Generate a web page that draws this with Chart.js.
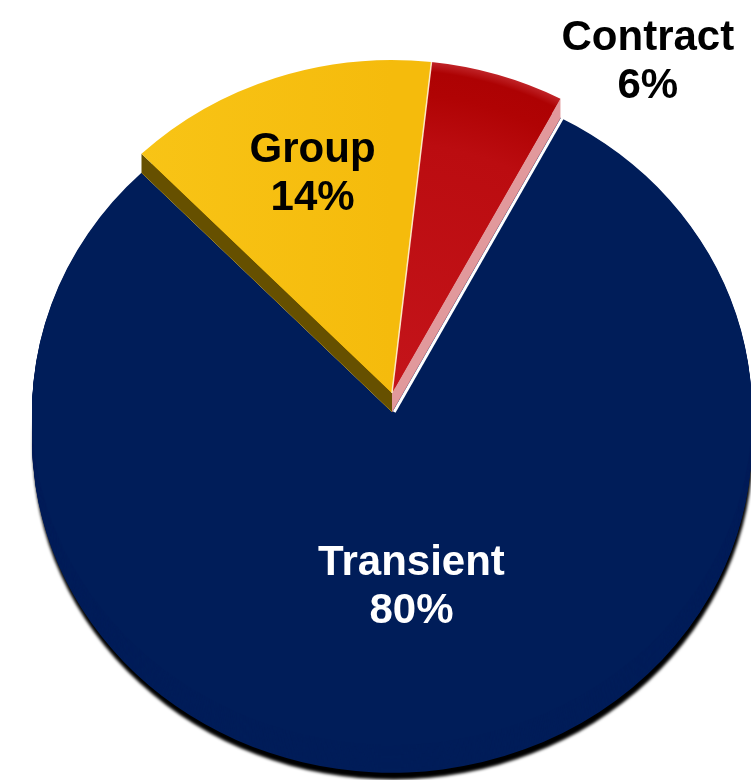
<!DOCTYPE html>
<html>
<head>
<meta charset="utf-8">
<script src="https://cdn.jsdelivr.net/npm/chart.js@4.4.1/dist/chart.umd.min.js"></script>
<style>
html, body { margin: 0; padding: 0; background: #fff; overflow: hidden; }
#wrap { position: relative; width: 751px; height: 780px; overflow: hidden; }
#mixChart { position: absolute; left: 0; top: 0; }
</style>
</head>
<body>
<div id="wrap"><canvas id="mixChart" width="780" height="780"></canvas></div>
<script>
// ===== Data =====
const segments = ["Transient", "Group", "Contract"];
const shares = [80, 14, 6];
const sliceColors = ["#001D59", "#F6BD0F", "#B80C10"];
const sideColors = [null, "#665000", "#E1999C"];
const raised = [false, true, true];
const labelColors = ["#ffffff", "#000000", "#000000"];
// where each label sits: fraction of radius, turn (deg) from slice middle
const labelPlace = [
    { r: 0.564, turn: 2.6 },
    { r: 0.714, turn: 0.9 },
    { r: 1.239, turn: 17.9 }
];

// ===== 3D look =====
const TILT = 0.925;   // vertical squash of the pie
const LIFT = 19;      // how far the small slices stand up (px)
const WALL = 28;      // thickness of the big slice (px)

function edgeBand(ctx, el, angle, lift, color) {
    const x1 = el.x + Math.cos(angle) * el.outerRadius;
    const y1 = el.y + Math.sin(angle) * el.outerRadius;
    ctx.beginPath();
    ctx.moveTo(el.x, el.y - lift);
    ctx.lineTo(x1, y1 - lift);
    ctx.lineTo(x1, y1);
    ctx.lineTo(el.x, el.y);
    ctx.closePath();
    ctx.fillStyle = color;
    ctx.fill();
}

const pie3d = {
    id: "pie3d",
    beforeDatasetsDraw(chart) {
        const ctx = chart.ctx;
        const c = chart.getDatasetMeta(0).data[0];
        const wall = WALL / TILT;
        ctx.save();
        ctx.translate(0, c.y);
        ctx.scale(1, TILT);
        ctx.translate(0, -c.y);

        // shadow under the big slice
        ctx.save();
        ctx.filter = "blur(1.5px)";
        ctx.fillStyle = "#000000";
        const sy = c.y + wall + 7;
        ctx.beginPath();
        ctx.moveTo(c.x + 1, sy);
        ctx.arc(c.x + 1, sy, c.outerRadius, c.startAngle, c.endAngle);
        ctx.closePath();
        ctx.fill();
        ctx.restore();

        // wall of the big slice
        for (let i = Math.round(wall); i > 0; i--) {
            ctx.save();
            ctx.translate(0, i);
            c.draw(ctx);
            ctx.restore();
        }
    },
    afterDatasetsDraw(chart) {
        const ctx = chart.ctx;
        const arcs = chart.getDatasetMeta(0).data;
        const g = arcs[1], k = arcs[2];
        const lift = LIFT / TILT;

        // white gap between the Contract side and the big slice
        ctx.beginPath();
        ctx.moveTo(k.x + 2.2, k.y);
        ctx.lineTo(k.x + 2.2 + Math.cos(k.endAngle) * k.outerRadius, k.y + Math.sin(k.endAngle) * k.outerRadius);
        ctx.strokeStyle = "#ffffff";
        ctx.lineWidth = 3;
        ctx.stroke();

        // side faces seen from the front
        edgeBand(ctx, g, g.startAngle, lift, sideColors[1]);
        edgeBand(ctx, k, k.endAngle, lift, sideColors[2]);

        // top faces of the lifted slices
        arcs.forEach((el, i) => {
            if (!raised[i]) return;
            ctx.save();
            ctx.translate(0, -lift);
            el.draw(ctx);
            ctx.restore();
        });

        // light seam between Group and Contract
        ctx.beginPath();
        ctx.moveTo(g.x, g.y - lift);
        ctx.lineTo(g.x + Math.cos(g.endAngle) * g.outerRadius, g.y - lift + Math.sin(g.endAngle) * g.outerRadius);
        ctx.strokeStyle = "rgba(255,245,215,0.9)";
        ctx.lineWidth = 1.5;
        ctx.stroke();

        ctx.restore();
    },
    afterDraw(chart) {
        const ctx = chart.ctx;
        const arcs = chart.getDatasetMeta(0).data;
        const total = shares.reduce((a, b) => a + b, 0);
        ctx.save();
        ctx.font = "bold 42px 'Liberation Sans', Arial, sans-serif";
        ctx.textAlign = "center";
        ctx.textBaseline = "alphabetic";
        arcs.forEach((el, i) => {
            const mid = (el.startAngle + el.endAngle) / 2 + labelPlace[i].turn * Math.PI / 180;
            const r = el.outerRadius * labelPlace[i].r;
            const x = el.x + Math.cos(mid) * r;
            const y = el.y + Math.sin(mid) * r * TILT;
            ctx.fillStyle = labelColors[i];
            ctx.fillText(segments[i], x, y - 24);
            ctx.fillText(Math.round(shares[i] / total * 100) + "%", x, y + 24);
        });
        ctx.restore();
    }
};

function sliceFill(context) {
    const i = context.dataIndex;
    const area = context.chart.chartArea;
    if (!area || i === 0) return sliceColors[i];
    const cx = (area.left + area.right) / 2;
    const cy = (area.top + area.bottom) / 2;
    const R = Math.min(area.width, area.height) / 2;
    const c = context.chart.ctx;
    if (i === 1) {
        const lg = c.createLinearGradient(cx - R * 0.7, 0, cx, 0);
        lg.addColorStop(0, "#F8C416");
        lg.addColorStop(1, "#F5BB0C");
        return lg;
    }
    const rg = c.createRadialGradient(cx, cy, 0, cx, cy, R);
    rg.addColorStop(0, "#C4141A");
    rg.addColorStop(0.75, "#BB0C10");
    rg.addColorStop(0.9, "#B00304");
    rg.addColorStop(0.97, "#AD0203");
    rg.addColorStop(1, "#C02428");
    return rg;
}

new Chart(document.getElementById("mixChart"), {
    type: "pie",
    data: {
        labels: segments,
        datasets: [{
            data: shares,
            backgroundColor: sliceFill,
            borderWidth: 0
        }]
    },
    options: {
        responsive: false,
        animation: false,
        rotation: 27.9,
        layout: { padding: { left: 32, right: 28, top: 52, bottom: 8 } },
        plugins: {
            legend: { display: false },
            tooltip: { enabled: false }
        }
    },
    plugins: [pie3d]
});
</script>
</body>
</html>
